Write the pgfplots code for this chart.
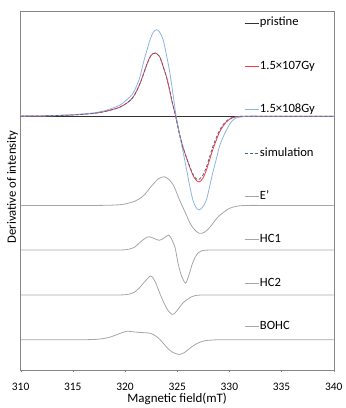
\documentclass[border=0pt]{standalone}
\usepackage{fontspec}
\setmainfont{Carlito}
\usepackage{pgfplots}
\pgfplotsset{compat=1.18}
\definecolor{cblue}{RGB}{141,180,226}
\definecolor{cred}{RGB}{255,60,60}
\definecolor{cblack}{RGB}{50,50,50}
\definecolor{csim}{RGB}{80,100,150}
\definecolor{cgray}{RGB}{166,166,166}
\definecolor{cframe}{RGB}{134,134,134}
\begin{document}
\begin{tikzpicture}
\begin{axis}[
  scale only axis, width=314bp, height=360bp,
  xmin=310, xmax=340, ymin=0, ymax=360,
  xtick={310,315,320,325,330,335,340}, ytick=\empty,
  xtick pos=left, tick align=outside, major tick length=2.5bp,
  axis line style={draw=cframe}, tick style={draw=cframe},
  /pgf/number format/assume math mode=true,
  tick label style={font=\fontsize{11.5}{13}\selectfont},
  xticklabel style={anchor=center, yshift=-14bp},
  xlabel={Magnetic field(mT)},
  xlabel style={font=\fontsize{13}{15}\selectfont, at={(axis description cs:0.5,-0.0806)}, anchor=center},
  ylabel={Derivative of intensity},
  ylabel style={font=\fontsize{12.8}{15}\selectfont, at={(axis description cs:-0.0261,0.51)}, anchor=center},
  legend style={draw=none, fill=none, inner sep=0pt, outer sep=0pt,
    at={(rel axis cs:0.714,0.9833)}, anchor=north west,
    row sep=31.5bp, column sep=1bp,
    font=\fontsize{12.7}{15}\selectfont,
    nodes={inner sep=0pt, text height=9bp, text depth=3bp}},
  legend cell align=left,
  legend image code/.code={\draw[#1] (0bp,0bp) -- (14bp,0bp);},
  every axis plot/.append style={line width=0.8bp},
]
\coordinate (bl) at (rel axis cs:0,0);
\coordinate (tr) at (rel axis cs:1,1);
% pristine
\addplot[cblack, no markers] table[x index=0, y expr=\thisrowno{1}+254.5] {
310 0
340 0
};
\addlegendentry{pristine}
% 1.5x10^7 Gy
\addplot[cred, smooth, no markers] table[x index=0, y expr=\thisrowno{1}+254.5] {
310 0
312 0.2
313.5 0.6
315 1.2
316 1.9
317 2.8
318 4.5
318.6 6
319.5 9
320.2 13.3
320.7 18
321.1 25
321.45 33
321.75 41.7
322.1 52
322.4 59.3
322.65 62.5
322.9 63.3
323.3 60
323.65 50
324.0 38.3
324.3 25
324.5 15
324.85 0
325.2 -17
325.55 -31
325.9 -42
326.2 -51
326.5 -59
326.8 -64
327.1 -66
327.45 -62.5
327.8 -54
328.1 -44
328.4 -34
328.75 -24
329.05 -16
329.4 -10
329.7 -6
330.0 -3.3
330.3 -1.7
330.7 -0.6
331.2 -0.1
331.7 0
332.5 0
334 0
340 0
};
\addlegendentry{1.5×107Gy}
% 1.5x10^8 Gy
\addplot[cblue, smooth, no markers] table[x index=0, y expr=\thisrowno{1}+254.5] {
310 0
312 0.2
313.5 0.7
315 1.5
316 2.3
317 3.3
318 5.3
318.6 7.3
319.5 11
320.2 16.7
320.7 22
321.1 30
321.45 40
321.75 53.3
322.1 66
322.4 76.7
322.7 84
323.0 86.7
323.3 84.5
323.65 76.7
324.0 60
324.3 43.3
324.6 22
324.9 0
325.2 -17
325.55 -35
325.9 -53.7
326.2 -70
326.5 -84
326.8 -91.5
327.1 -94
327.45 -91
327.8 -84
328.1 -71
328.4 -57
328.75 -43
329.05 -30.4
329.4 -21
329.7 -14.3
330.0 -8.5
330.3 -4.3
330.6 -2
331.0 -1
331.5 -0.3
332 0
333 0
335 0
340 0
};
\addlegendentry{1.5×108Gy}
% simulation
\addplot[csim, smooth, no markers, dash pattern=on 3bp off 2bp] table[x index=0, y expr=\thisrowno{1}+254.5] {
310 0
312 0.2
313.5 0.6
315 1.2
316 1.9
317 2.8
318 4.5
318.6 6
319.5 9
320.2 13.3
320.7 18
321.1 25
321.45 33
321.75 41.7
322.1 52
322.4 59.3
322.65 62.5
322.9 63.3
323.3 60
323.65 50
324.0 38.3
324.3 25
324.5 15
324.85 0
325.2 -17
325.55 -31
325.9 -42
326.2 -50.5
326.5 -58
326.8 -62.5
327.05 -63.7
327.45 -59.5
327.8 -51
328.1 -41
328.4 -31
328.75 -21.5
329.05 -14.3
329.4 -8.5
329.7 -5
330.0 -2.6
330.3 -1.2
330.7 -0.4
331.2 -0.1
331.7 0
332.5 0
334 0
340 0
};
\addlegendentry{simulation}
% E'
\addplot[cgray, smooth, no markers] table[x index=0, y expr=\thisrowno{1}+165] {
310 0
314 0
316 0
317.5 0
318.6 0.2
319.2 0.5
319.8 1
320.5 2.7
321.0 4.5
321.4 6.7
321.9 11
322.4 17.7
322.8 22.5
323.2 26.7
323.5 28.3
323.8 28.7
324.2 26
324.6 21
324.9 14
325.2 6
325.55 -2
325.9 -10
326.2 -17.3
326.6 -23.5
327.1 -28
327.6 -27
328.1 -22.3
328.6 -15.5
329.0 -10.7
329.5 -6.5
330.0 -3
330.5 -1.3
331.0 -0.4
331.5 -0.1
332 0
333 0
335 0
340 0
};
\addlegendentry{E'}
% HC1
\addplot[cgray, smooth, no markers] table[x index=0, y expr=\thisrowno{1}+120.3] {
310 0
314 0
317 0
318.5 0
319.5 0
320.0 0.2
320.4 0.8
320.95 3
321.4 7.3
321.9 11.5
322.3 13.3
322.8 11.5
323.3 9.7
323.8 12.5
324.2 15
324.5 10
324.8 2.3
325.1 -14.3
325.45 -27
325.8 -33.3
326.0 -29
326.2 -22.7
326.45 -14
326.7 -7.7
327.0 -3
327.3 -1
327.7 -0.3
328.1 0
328.6 0
330 0
333 0
340 0
};
\addlegendentry{HC1}
% HC2
\addplot[cgray, smooth, no markers] table[x index=0, y expr=\thisrowno{1}+75.2] {
310 0
314 0
317 0
318.5 0
319.5 0
320.0 0.2
320.4 0.8
320.9 2.8
321.4 7.3
321.9 13.5
322.45 19
322.75 16
323.0 10.7
323.25 4
323.5 -2.6
323.8 -9.5
324.1 -15.3
324.5 -19.5
324.8 -18
325.2 -12.7
325.6 -7.5
326.0 -4.3
326.4 -1.8
326.8 -0.5
327.2 -0.1
327.6 0
328 0
329.5 0
332 0
336 0
340 0
};
\addlegendentry{HC2}
% BOHC
\addplot[cgray, smooth, no markers] table[x index=0, y expr=\thisrowno{1}+30.3] {
310 0
313 0
315 0
316 0
316.6 0.1
317.2 0.3
317.6 0.7
318.1 1.5
318.6 2.7
319.2 5
319.7 7
320.2 8.5
320.7 8
321.4 7.3
322.4 6.5
322.9 4
323.3 0.7
323.7 -4
324.1 -8.7
324.6 -12.8
325.2 -14.8
325.7 -12.8
326.2 -8.7
326.7 -5
327.3 -2
327.8 -0.8
328.4 -0.3
329 0
329.6 0
331 0
334 0
340 0
};
\addlegendentry{BOHC}
\end{axis}
\path ([xshift=-20.7bp,yshift=-37.3bp]bl) rectangle ([xshift=8.5bp,yshift=11bp]tr);
\end{tikzpicture}
\end{document}
